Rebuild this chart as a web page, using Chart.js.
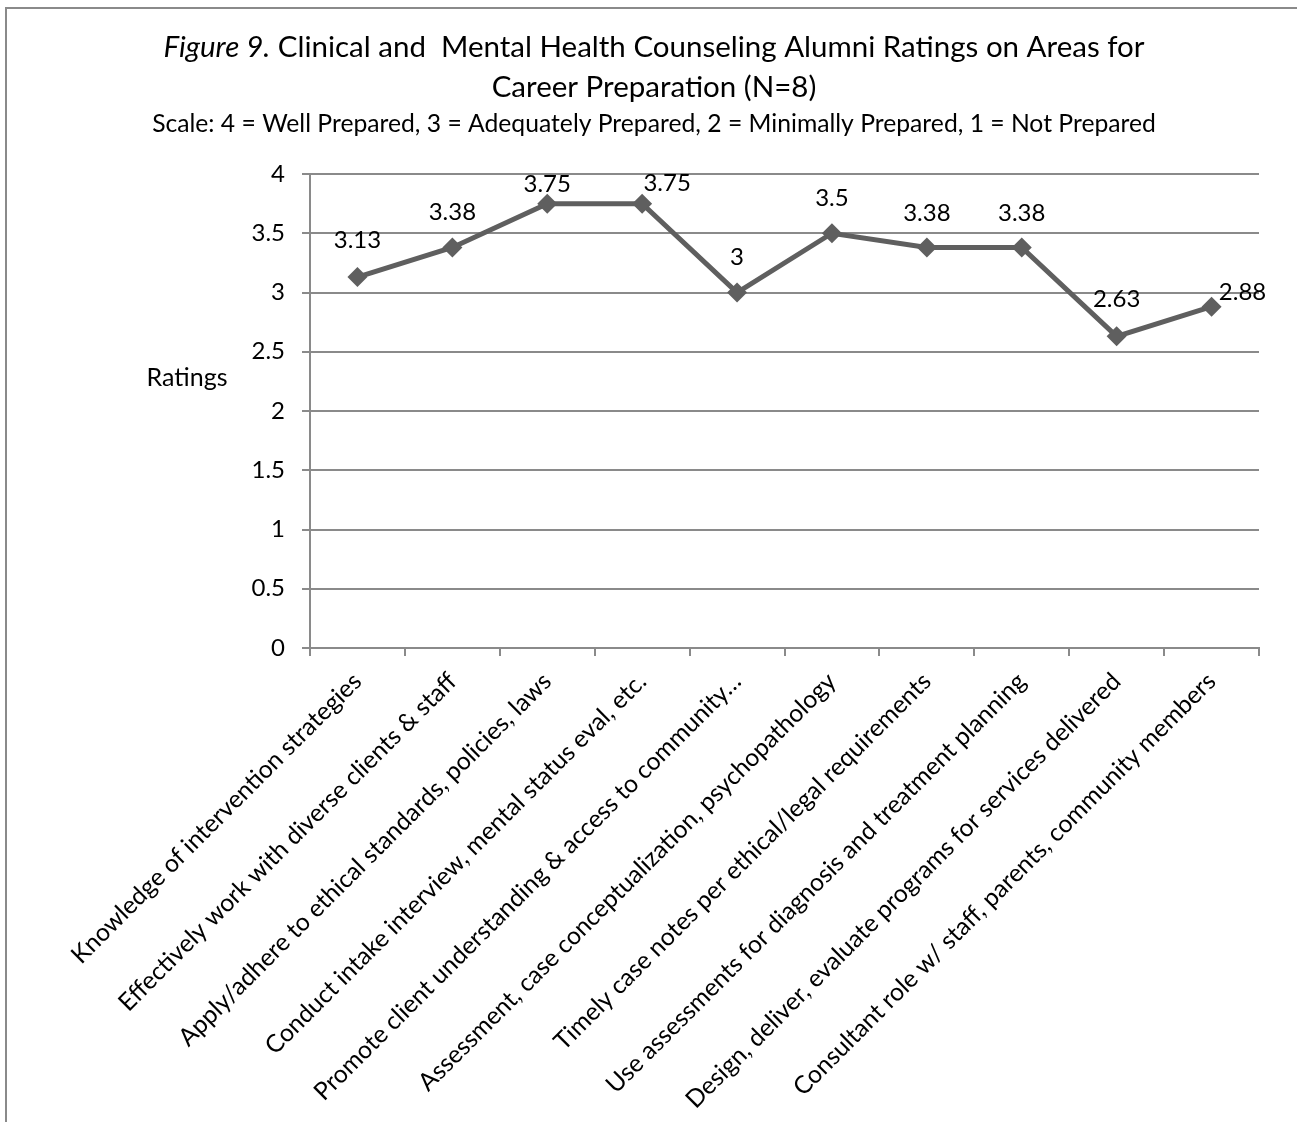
<!DOCTYPE html>
<html>
<head>
<meta charset="utf-8">
<title>Figure 9</title>
<script src="https://cdn.jsdelivr.net/npm/chart.js@4.4.1/dist/chart.umd.min.js"></script>
<style>
  html, body { margin: 0; padding: 0; background: #fff; }
  canvas { display: block; }
</style>
</head>
<body>
<canvas id="chart" width="1297" height="1122"></canvas>
<script>
// Survey areas (x axis) and mean alumni ratings
const categories = [
  "Knowledge of intervention strategies",
  "Effectively work with diverse clients & staff",
  "Apply/adhere to ethical standards, policies, laws",
  "Conduct intake interview, mental status eval, etc.",
  "Promote client understanding & access to community…",
  "Assessment, case conceptualization, psychopathology",
  "Timely case notes per ethical/legal requirements",
  "Use assessments for diagnosis and treatment planning",
  "Design, deliver, evaluate programs for services delivered",
  "Consultant role w/ staff, parents, community members"
];
const ratings = [3.13, 3.38, 3.75, 3.75, 3, 3.5, 3.38, 3.38, 2.63, 2.88];

const yMin = 0;
const yMax = 4;
const yStep = 0.5;

const titleItalic = "Figure 9.";
const titleRest = " Clinical and  Mental Health Counseling Alumni Ratings on Areas for";
const titleLine2 = "Career Preparation (N=8)";
const subtitle = "Scale: 4 = Well Prepared, 3 = Adequately Prepared, 2 = Minimally Prepared, 1 = Not Prepared";
const yAxisTitle = "Ratings";

// nudges for the value labels, relative to each point (px)
const labelDx = [0, 0, 0, 25, 0, 0, 0, 0, 0, 31];
const labelDy = [-37, -35, -19, -20, -35, -35, -34, -34, -37, -14];

const FONT = "Lato, 'Open Sans', sans-serif";
const lineGray = "#5f5f5f";
const axisGray = "#8a8a8a";

const frameAndText = {
  id: "frameAndText",
  beforeDraw(chart) {
    const ctx = chart.ctx;
    ctx.save();
    ctx.fillStyle = "#fff";
    ctx.fillRect(0, 0, chart.width, chart.height);
    ctx.strokeStyle = axisGray;
    ctx.lineWidth = 2;
    ctx.strokeRect(6, 8, chart.width + 20, chart.height + 20);
    ctx.restore();
  },
  afterDraw(chart) {
    const ctx = chart.ctx;
    const cx = 654;
    ctx.save();
    ctx.fillStyle = "#000";
    ctx.textBaseline = "middle";

    // first title line: italic figure number, then plain text
    const fItalic = "italic 29.5px " + FONT;
    const fPlain = "29.5px " + FONT;
    ctx.font = fItalic;
    const w1 = ctx.measureText(titleItalic).width;
    ctx.font = fPlain;
    const w2 = ctx.measureText(titleRest).width;
    const x = cx - (w1 + w2) / 2;
    ctx.textAlign = "left";
    ctx.font = fItalic;
    ctx.fillText(titleItalic, x, 47);
    ctx.font = fPlain;
    ctx.fillText(titleRest, x + w1, 47);

    ctx.textAlign = "center";
    ctx.fillText(titleLine2, cx, 87);

    ctx.font = "24.7px " + FONT;
    ctx.fillText(subtitle, cx, 124);

    ctx.font = "25px " + FONT;
    ctx.fillText(yAxisTitle, 187, 378);
    ctx.restore();
  }
};

const valueLabels = {
  id: "valueLabels",
  afterDatasetsDraw(chart) {
    const ctx = chart.ctx;
    const meta = chart.getDatasetMeta(0);
    ctx.save();
    ctx.font = "24px " + FONT;
    ctx.fillStyle = "#000";
    ctx.textAlign = "center";
    ctx.textBaseline = "middle";
    meta.data.forEach((pt, i) => {
      const v = chart.data.datasets[0].data[i];
      ctx.fillText(String(v), pt.x + labelDx[i], pt.y + labelDy[i]);
    });
    ctx.restore();
  }
};

new Chart(document.getElementById("chart"), {
  type: "line",
  data: {
    labels: categories,
    datasets: [{
      data: ratings,
      borderColor: lineGray,
      borderWidth: 5,
      backgroundColor: lineGray,
      pointStyle: "rectRot",
      pointRadius: 10,
      pointBorderWidth: 0,
      pointBackgroundColor: lineGray,
      tension: 0,
      fill: false
    }]
  },
  options: {
    responsive: false,
    animation: false,
    devicePixelRatio: 1,
    layout: { padding: { top: 174, right: 38, bottom: 0, left: 0 } },
    plugins: {
      legend: { display: false },
      tooltip: { enabled: false },
      title: { display: false }
    },
    scales: {
      x: {
        type: "category",
        offset: true,
        grid: {
          offset: true,
          drawOnChartArea: false,
          drawTicks: true,
          tickLength: 8,
          color: axisGray,
          lineWidth: 2
        },
        border: { color: axisGray, width: 2 },
        ticks: {
          autoSkip: false,
          maxRotation: 45,
          minRotation: 45,
          padding: 11,
          color: "#000",
          font: { family: FONT, size: 24.6 }
        },
        afterFit(scale) { scale.height = 1122 - 648; }
      },
      y: {
        min: yMin,
        max: yMax,
        ticks: {
          stepSize: yStep,
          padding: 17,
          color: "#000",
          font: { family: FONT, size: 24 },
          callback: (value) => String(value)
        },
        grid: { color: axisGray, lineWidth: 2, tickLength: 8 },
        border: { color: axisGray, width: 2 },
        afterFit(scale) { scale.width = 310; }
      }
    }
  },
  plugins: [frameAndText, valueLabels]
});
</script>
</body>
</html>
